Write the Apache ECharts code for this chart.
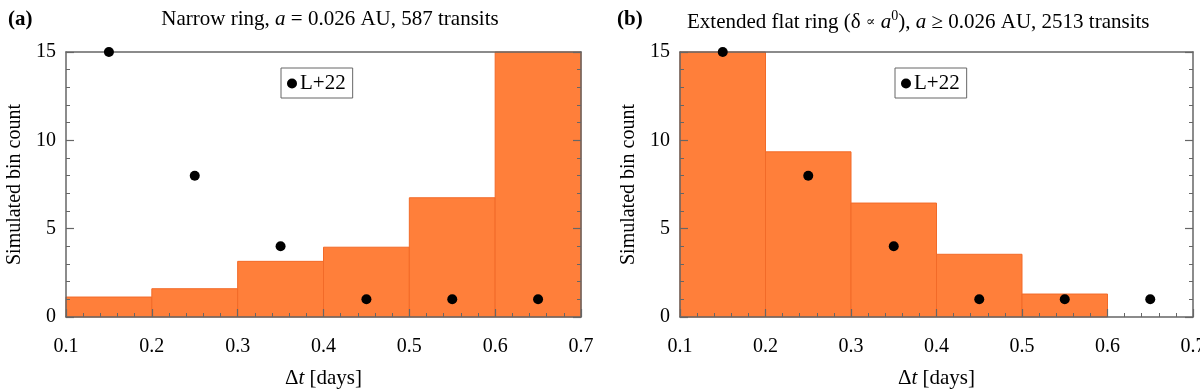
<!DOCTYPE html>
<html>
<head>
<meta charset="utf-8">
<script src="https://cdn.jsdelivr.net/npm/echarts@6/dist/echarts.min.js"></script>
<style>html,body{margin:0;padding:0;background:#fff}#c{width:1200px;height:392px}</style>
</head>
<body>
<div id="c"></div>
<script>
// ---- data ----
var binStarts = [0.1, 0.2, 0.3, 0.4, 0.5, 0.6];
var binEnds   = [0.2, 0.3, 0.4, 0.5, 0.6, 0.7];
var barsNarrow   = [1.13, 1.6, 3.15, 3.95, 6.75, 15];
var barsExtended = [15, 9.35, 6.45, 3.55, 1.3, 0];
var pointX = [0.15, 0.25, 0.35, 0.45, 0.55, 0.65];
var pointsL22 = [15, 8, 4, 1, 1, 1];
var yTicks = [0, 5, 10, 15];
var xTicks = [0.1, 0.2, 0.3, 0.4, 0.5, 0.6, 0.7];

var FONT = '"Liberation Serif", "DejaVu Serif", serif';
var AXC = '#666';
var ORANGE = '#FF7F3A';

function histData(vals){ return vals.map(function(v,i){ return [binStarts[i], binEnds[i], v]; }); }
function ptsData(vals){ return vals.map(function(v,i){ return [pointX[i], v]; }); }

function renderBar(params, api){
  var x0 = api.value(0), x1 = api.value(1), h = api.value(2);
  if (h <= 0) return null;
  var p0 = api.coord([x0, 0]);
  var p1 = api.coord([x1, h]);
  return {
    type: 'rect',
    shape: {x: p0[0], y: p1[1], width: p1[0]-p0[0], height: p0[1]-p1[1]},
    style: {fill: ORANGE, stroke: '#F26A28', lineWidth: 1}
  };
}

function xAxes(gi){
  return [{
    gridIndex: gi, type: 'value', min: xTicks[0], max: xTicks[xTicks.length-1], interval: 0.1, z: 5,
    position: 'bottom',
    name: '{n|Δ}{i|t}{n| [days]}', nameLocation: 'middle', nameGap: 51,
    nameTextStyle: {rich: {n: {fontFamily: FONT, fontSize: 21, color: '#000'}, i: {fontFamily: FONT, fontSize: 21, fontStyle: 'italic', color: '#000'}}},
    axisLine: {show: true, lineStyle: {color: AXC, width: 1.5}},
    axisTick: {show: true, inside: true, length: 8, lineStyle: {color: AXC, width: 1.2}},
    minorTick: {show: true, splitNumber: 5, length: 4, lineStyle: {color: AXC, width: 1}},
    splitLine: {show: false},
    axisLabel: {fontFamily: FONT, fontSize: 20, color: '#000', margin: 20, formatter: function(v){ return v.toFixed(1); }}
  }, {
    gridIndex: gi, type: 'value', min: xTicks[0], max: xTicks[xTicks.length-1], interval: 0.1, z: 5,
    position: 'top',
    axisLine: {show: true, onZero: false, lineStyle: {color: AXC, width: 1.5}},
    axisTick: {show: false}, axisLabel: {show: false}, splitLine: {show: false}
  }];
}
function yAxes(gi){
  return [{
    gridIndex: gi, type: 'value', min: yTicks[0], max: yTicks[yTicks.length-1], interval: 5, z: 5,
    position: 'left',
    name: 'Simulated bin count', nameLocation: 'middle', nameGap: 41,
    nameTextStyle: {fontFamily: FONT, fontSize: 20, color: '#000'},
    axisLine: {show: true, lineStyle: {color: AXC, width: 1.5}},
    axisTick: {show: true, inside: true, length: 8, lineStyle: {color: AXC, width: 1.2}},
    minorTick: {show: true, splitNumber: 5, length: 4, lineStyle: {color: AXC, width: 1}},
    splitLine: {show: false},
    axisLabel: {fontFamily: FONT, fontSize: 20, color: '#000', margin: 10}
  }, {
    gridIndex: gi, type: 'value', min: yTicks[0], max: yTicks[yTicks.length-1], interval: 5, z: 5,
    position: 'right',
    axisLine: {show: true, onZero: false, lineStyle: {color: AXC, width: 1.5}},
    axisTick: {show: true, inside: true, length: 8, lineStyle: {color: AXC, width: 1.2}},
    minorTick: {show: true, splitNumber: 5, length: 4, lineStyle: {color: AXC, width: 1}},
    splitLine: {show: false}, axisLabel: {show: false}
  }];
}

var titleRich = {
  n: {fontFamily: FONT, fontSize: 21, color: '#000', fontWeight: 'normal'},
  i: {fontFamily: FONT, fontSize: 21, color: '#000', fontStyle: 'italic', fontWeight: 'normal'},
  s: {fontFamily: FONT, fontSize: 14, color: '#000', fontWeight: 'normal', padding: [0,0,12,0]},
  p: {fontFamily: FONT, fontSize: 14, color: '#000', fontWeight: 'normal'}
};

var legendCommon = {
  data: ['L+22'], orient: 'horizontal', icon: 'circle', itemWidth: 10, itemHeight: 10, itemGap: 5,
  selectedMode: false, borderColor: '#666', borderWidth: 1, padding: [5, 7, 4, 6],
  textStyle: {fontFamily: FONT, fontSize: 21, color: '#000', padding: [0,0,0,-2]}
};

var option = {
  backgroundColor: '#fff',
  animation: false,
  title: [
    {text: '(a)', left: 3, top: 4, textStyle: {fontFamily: FONT, fontSize: 21, fontWeight: 'bold', color: '#000'}},
    {text: '{n|Narrow ring, }{i|a}{n| = 0.026 AU, 587 transits}', left: 325, textAlign: 'center', top: 4,
     textStyle: {fontWeight: 'normal', rich: titleRich}},
    {text: '(b)', left: 612, top: 4, textStyle: {fontFamily: FONT, fontSize: 21, fontWeight: 'bold', color: '#000'}},
    {text: '{n|Extended flat ring (δ }{p|∝}{n| }{i|a}{s|0}{n|), }{i|a}{n| ≥ 0.026 AU, 2513 transits}', left: 682, top: 4,
     textStyle: {fontWeight: 'normal', rich: titleRich}}
  ],
  legend: [
    Object.assign({left: 281, top: 68}, legendCommon),
    Object.assign({left: 895, top: 68}, legendCommon)
  ],
  grid: [
    {left: 66, right: 619, top: 52, bottom: 75, outerBoundsMode: 'none', containLabel: false},
    {left: 680, right: 7, top: 52, bottom: 75, outerBoundsMode: 'none', containLabel: false}
  ],
  xAxis: xAxes(0).concat(xAxes(1)),
  yAxis: yAxes(0).concat(yAxes(1)),
  series: [
    {type: 'custom', name: 'narrow', xAxisIndex: 0, yAxisIndex: 0, renderItem: renderBar, data: histData(barsNarrow), encode: {x: [0,1], y: 2}, z: 1},
    {type: 'custom', name: 'extended', xAxisIndex: 2, yAxisIndex: 2, renderItem: renderBar, data: histData(barsExtended), encode: {x: [0,1], y: 2}, z: 1},
    {type: 'scatter', name: 'L+22', xAxisIndex: 0, yAxisIndex: 0, data: ptsData(pointsL22), symbol: 'circle', symbolSize: 10, itemStyle: {color: '#000', opacity: 1}, clip: false, z: 10},
    {type: 'scatter', name: 'L+22', xAxisIndex: 2, yAxisIndex: 2, data: ptsData(pointsL22), symbol: 'circle', symbolSize: 10, itemStyle: {color: '#000', opacity: 1}, clip: false, z: 10}
  ]
};
var chart = echarts.init(document.getElementById('c'), null, {renderer: 'canvas'});
chart.setOption(option);
</script>
</body>
</html>
